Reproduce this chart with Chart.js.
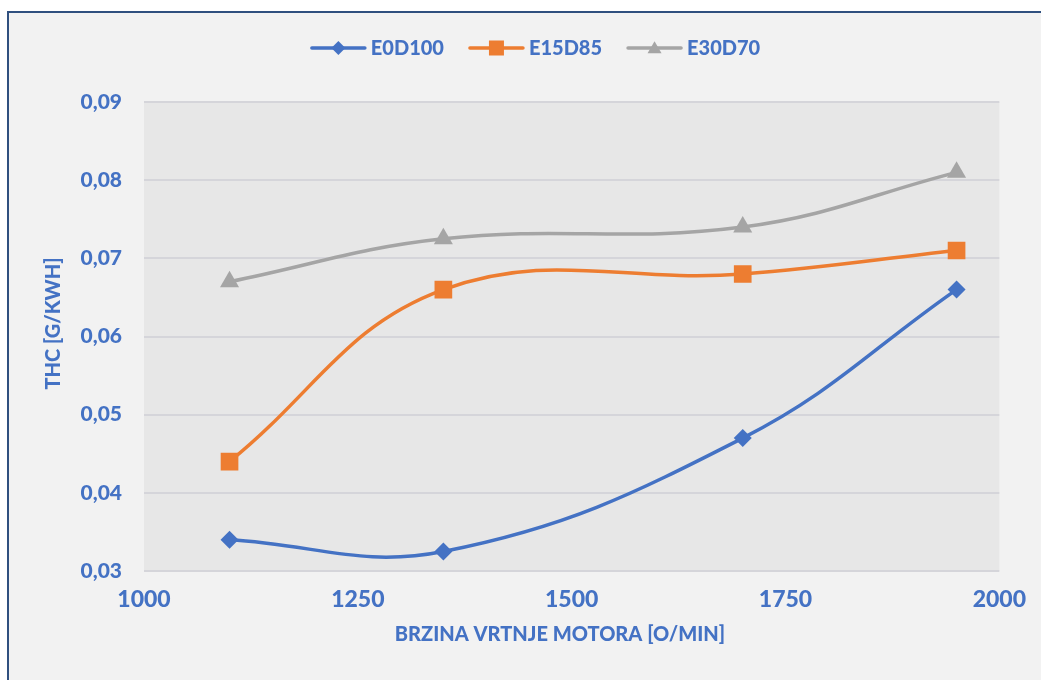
<!DOCTYPE html>
<html><head><meta charset="utf-8">
<script src="https://cdn.jsdelivr.net/npm/chart.js@4/dist/chart.umd.min.js"></script>
<style>html,body{margin:0;padding:0;background:#fff;overflow:hidden}#wrap{position:absolute;left:0;top:0;width:1041px;height:680px}</style>
</head><body><div id="wrap"><canvas id="c" width="1041" height="680"></canvas></div>
<script>
// ---- data ----
const speeds = [1100, 1350, 1700, 1950];
const e0d100 = [0.034, 0.0325, 0.047, 0.066];
const e15d85 = [0.044, 0.066, 0.068, 0.071];
const e30d70 = [0.067, 0.0725, 0.074, 0.081];
const seriesNames = ['E0D100', 'E15D85', 'E30D70'];
const xTicks = [1000, 1250, 1500, 1750, 2000];
const yTicks = [0.03, 0.04, 0.05, 0.06, 0.07, 0.08, 0.09];
const xTitle = 'BRZINA VRTNJE MOTORA [O/MIN]';
const yTitle = 'THC [G/KWH]';

// ---- styles ----
const FONT = 'Lato, "Open Sans", sans-serif';
const W = '900';
const TXT = '#4472c4';
const colors = ['#4472c4', '#ed7d31', '#a5a5a5'];
const styles = ['rectRot', 'rect', 'triangle'];
const radii = [9, 12.5, 11];
const allSeries = [e0d100, e15d85, e30d70];

function pts(arr) { return speeds.map((x, i) => ({ x: x, y: arr[i] })); }

const datasets = seriesNames.map((n, i) => ({
  label: n,
  data: pts(allSeries[i]),
  borderColor: colors[i],
  backgroundColor: colors[i],
  borderWidth: 3.5,
  pointStyle: styles[i],
  pointRadius: radii[i],
  pointHoverRadius: radii[i],
  pointBorderWidth: 0,
  pointBackgroundColor: colors[i],
  tension: 0.4,
  fill: false
}));

function drawMarker(ctx, style, cx, cy, size, color) {
  ctx.fillStyle = color;
  ctx.beginPath();
  if (style === 'rectRot') {
    const r = size / 2;
    ctx.moveTo(cx, cy - r); ctx.lineTo(cx + r, cy); ctx.lineTo(cx, cy + r); ctx.lineTo(cx - r, cy);
  } else if (style === 'rect') {
    const h = size / 2;
    ctx.rect(cx - h, cy - h, size, size);
  } else {
    const h = size / 2;
    ctx.moveTo(cx, cy - h * 0.95); ctx.lineTo(cx + h, cy + h * 0.75); ctx.lineTo(cx - h, cy + h * 0.75);
  }
  ctx.closePath();
  ctx.fill();
}

const bgPlugin = {
  id: 'bg',
  beforeDraw(chart) {
    const ctx = chart.ctx, a = chart.chartArea;
    ctx.save();
    ctx.fillStyle = '#ffffff';
    ctx.fillRect(0, 0, chart.width, chart.height);
    ctx.fillStyle = '#f2f2f2';
    ctx.fillRect(9, 13, chart.width, chart.height);
    ctx.strokeStyle = '#30507f';
    ctx.lineWidth = 2;
    ctx.strokeRect(8, 12, chart.width + 20, chart.height + 20);
    ctx.fillStyle = '#e7e7e7';
    ctx.fillRect(a.left, a.top, a.right - a.left, a.bottom - a.top);
    ctx.restore();
  }
};

const decoPlugin = {
  id: 'deco',
  afterDraw(chart) {
    const ctx = chart.ctx;
    ctx.save();
    // legend
    ctx.font = W + ' 20px ' + FONT;
    ctx.textBaseline = 'middle';
    ctx.textAlign = 'left';
    const lineLen = 55, gap = 5, itemGap = 25, ly = 48;
    const widths = seriesNames.map(n => lineLen + gap + ctx.measureText(n).width);
    const total = widths.reduce((s, w) => s + w, 0) + itemGap * (seriesNames.length - 1);
    let x = 535.5 - total / 2;
    const legSizes = [14, 15, 14];
    seriesNames.forEach((n, i) => {
      ctx.strokeStyle = colors[i];
      ctx.lineWidth = 3.5;
      ctx.lineCap = 'round';
      ctx.beginPath(); ctx.moveTo(x + 1, ly); ctx.lineTo(x + lineLen - 1, ly); ctx.stroke();
      drawMarker(ctx, styles[i], x + lineLen / 2, ly, legSizes[i], colors[i]);
      ctx.fillStyle = TXT;
      ctx.fillText(n, x + lineLen + gap, ly + 1);
      x += widths[i] + itemGap;
    });
    // axis titles
    ctx.fillStyle = TXT;
    ctx.font = W + ' 20px ' + FONT;
    ctx.textAlign = 'center';
    ctx.fillText(xTitle, 560, 635);
    ctx.translate(53, 323.5);
    ctx.rotate(-Math.PI / 2);
    ctx.fillText(yTitle, 0, 1);
    ctx.restore();
  }
};

new Chart(document.getElementById('c'), {
  type: 'line',
  data: { datasets: datasets },
  plugins: [bgPlugin, decoPlugin],
  options: {
    responsive: false,
    animation: false,
    devicePixelRatio: 1,
    layout: { padding: { left: 0, right: 41, top: 102, bottom: 0 } },
    plugins: { legend: { display: false }, tooltip: { enabled: false } },
    scales: {
      x: {
        type: 'linear',
        min: 1000, max: 2000,
        afterBuildTicks: s => { s.ticks = xTicks.map(v => ({ value: v })); },
        afterFit: s => { s.height = 109; },
        grid: { display: false, drawTicks: false },
        border: { display: false },
        ticks: {
          padding: 15, color: TXT, font: { family: FONT, size: 23, weight: W }, maxRotation: 0,
          callback: v => String(v)
        }
      },
      y: {
        type: 'linear',
        min: 0.03, max: 0.09,
        afterBuildTicks: s => { s.ticks = yTicks.map(v => ({ value: v })); },
        afterFit: s => { s.width = 144; },
        grid: { color: '#d5d5da', lineWidth: 2, drawTicks: false },
        border: { display: false },
        ticks: {
          padding: 22, color: TXT, font: { family: FONT, size: 21, weight: W },
          callback: v => v.toFixed(2).replace('.', ',')
        }
      }
    }
  }
});
</script>
</body></html>
